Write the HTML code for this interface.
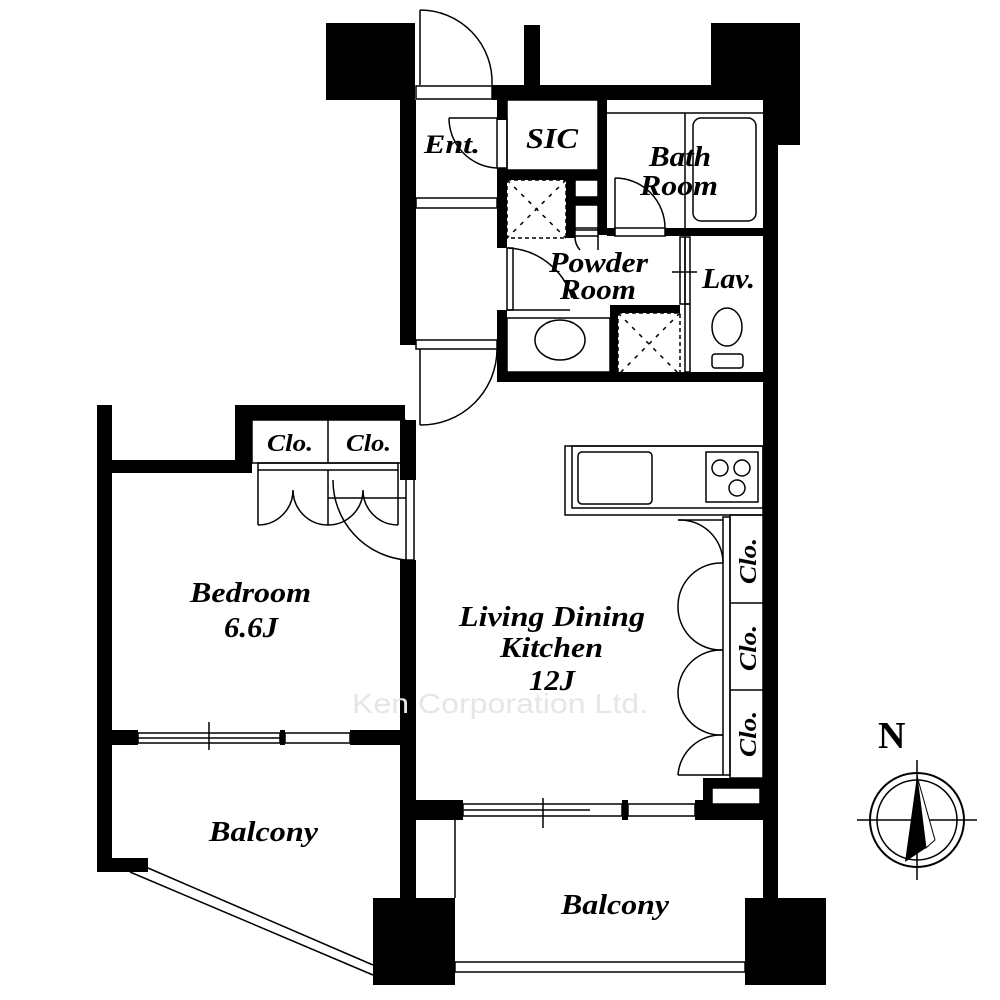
<!DOCTYPE html>
<html><head><meta charset="utf-8"><style>
html,body{margin:0;padding:0;background:#fff}
svg{display:block}
text{font-family:"Liberation Serif",serif;font-weight:bold;font-style:italic;fill:#000}
</style></head><body>
<svg width="1000" height="1000" viewBox="0 0 1000 1000" xmlns="http://www.w3.org/2000/svg">
<g fill="#000">
<rect x="326" y="23" width="89" height="77"/>
<rect x="711" y="23" width="89" height="77"/>
<rect x="763" y="23" width="37" height="122"/>
<rect x="524" y="25" width="16" height="62"/>
<rect x="373" y="898" width="82" height="87"/>
<rect x="745" y="898" width="81" height="87"/>
<rect x="492" y="85" width="220" height="15"/>
<rect x="400" y="100" width="16" height="245"/>
<rect x="400" y="420" width="16" height="60"/>
<rect x="400" y="560" width="16" height="340"/>
<rect x="763" y="140" width="15" height="760"/>
<rect x="497" y="100" width="10" height="20"/>
<rect x="497" y="168" width="10" height="80"/>
<rect x="497" y="310" width="10" height="72"/>
<rect x="598" y="100" width="9" height="135"/>
<rect x="507" y="170" width="93" height="10"/>
<rect x="566" y="180" width="9" height="58"/>
<rect x="575" y="197" width="25" height="8"/>
<rect x="607" y="228" width="8" height="8"/>
<rect x="665" y="228" width="100" height="8"/>
<rect x="610" y="305" width="8" height="70"/>
<rect x="610" y="305" width="70" height="8"/>
<rect x="497" y="372" width="268" height="10"/>
<rect x="97" y="405" width="15" height="465"/>
<rect x="97" y="460" width="155" height="13"/>
<rect x="235" y="405" width="170" height="15"/>
<rect x="235" y="405" width="17" height="60"/>
<rect x="112" y="730" width="26" height="15"/>
<rect x="280" y="730" width="5" height="15"/>
<rect x="350" y="730" width="60" height="15"/>
<rect x="97" y="858" width="51" height="14"/>
<rect x="400" y="800" width="63" height="20"/>
<rect x="622" y="800" width="6" height="20"/>
<rect x="695" y="800" width="70" height="20"/>
<rect x="703" y="778" width="60" height="30"/>
</g>
<g fill="none" stroke="#000" stroke-width="1.5">
<line x1="420" y1="10" x2="420" y2="85"/>
<path d="M420 10 A72 72 0 0 1 492 85"/>
<rect x="416" y="86" width="76" height="13"/>
<path d="M449 118 L497 118"/>
<rect x="497" y="118" width="10" height="50"/>
<path d="M449 118 A50 50 0 0 0 497 168"/>
<rect x="416" y="198" width="81" height="10"/>
<rect x="416" y="340" width="81" height="9"/>
<line x1="420" y1="349" x2="420" y2="425"/>
<path d="M497 349 A76 76 0 0 1 420 425"/>
<rect x="507" y="100" width="91" height="70"/>
<rect x="507" y="180" width="59" height="58" stroke-dasharray="4 3"/>
<line x1="507" y1="180" x2="566" y2="238" stroke-dasharray="4 6"/>
<line x1="566" y1="180" x2="507" y2="238" stroke-dasharray="4 6"/>
<rect x="575" y="180" width="23" height="17"/>
<rect x="575" y="205" width="23" height="25"/>
<rect x="575" y="228" width="23" height="8"/>
<line x1="607" y1="113" x2="763" y2="113"/>
<line x1="685" y1="113" x2="685" y2="228"/>
<rect x="693" y="118" width="63" height="103" rx="8"/>
<path d="M615 178 A50 50 0 0 1 665 228"/>
<line x1="615" y1="178" x2="615" y2="228"/>
<rect x="615" y="228" width="50" height="8"/>
<path d="M507 248 A70 70 0 0 1 572 298"/>
<rect x="507" y="248" width="6" height="62"/>
<path d="M575 236 A20 20 0 0 0 580 250"/>
<line x1="598" y1="236" x2="598" y2="250"/>
<rect x="507" y="318" width="103" height="54"/>
<line x1="507" y1="310" x2="570" y2="310"/>
<ellipse cx="560" cy="340" rx="25" ry="20"/>
<rect x="618" y="313" width="62" height="62" stroke-dasharray="4 3"/>
<line x1="618" y1="313" x2="680" y2="375" stroke-dasharray="4 6"/>
<line x1="680" y1="313" x2="618" y2="375" stroke-dasharray="4 6"/>
<rect x="680" y="237" width="5" height="67"/>
<rect x="685" y="237" width="5" height="67"/>
<rect x="685" y="304" width="5" height="68"/>
<line x1="672" y1="272" x2="697" y2="272"/>
<ellipse cx="727" cy="327" rx="15" ry="19"/>
<rect x="712" y="354" width="31" height="14" rx="3"/>
<rect x="252" y="420" width="153" height="43"/>
<line x1="328" y1="420" x2="328" y2="463"/>
<rect x="258" y="463" width="140" height="7"/>
<line x1="258" y1="470" x2="258" y2="525"/>
<line x1="328" y1="470" x2="328" y2="525"/>
<line x1="398" y1="470" x2="398" y2="525"/>
<path d="M258 525 A35 35 0 0 0 293 490 A35 35 0 0 0 328 525"/>
<path d="M328 525 A35 35 0 0 0 363 490 A35 35 0 0 0 398 525"/>
<line x1="328" y1="498" x2="406" y2="498"/>
<rect x="406" y="478" width="8" height="82"/>
<path d="M333 480 A80 80 0 0 0 406 560"/>
<rect x="138" y="733" width="142" height="10"/>
<rect x="285" y="733" width="65" height="10"/>
<line x1="138" y1="738" x2="280" y2="738"/>
<line x1="209" y1="722" x2="209" y2="750"/>
<line x1="130" y1="872" x2="373" y2="975"/>
<line x1="148" y1="868" x2="373" y2="965"/>
<rect x="565" y="446" width="198" height="69"/>
<rect x="572" y="446" width="191" height="62"/>
<rect x="578" y="452" width="74" height="52" rx="4"/>
<rect x="706" y="452" width="52" height="50"/>
<circle cx="720" cy="468" r="8"/>
<circle cx="742" cy="468" r="8"/>
<circle cx="737" cy="488" r="8"/>
<rect x="730" y="515" width="33" height="263"/>
<line x1="730" y1="603" x2="763" y2="603"/>
<line x1="730" y1="690" x2="763" y2="690"/>
<rect x="723" y="517" width="7" height="258"/>
<line x1="678" y1="520" x2="723" y2="520"/>
<path d="M678 520 A43 43 0 0 1 723 563"/>
<path d="M723 563 A43 43 0 0 0 678 606 A43 43 0 0 0 723 650"/>
<path d="M723 650 A43 43 0 0 0 678 693 A43 43 0 0 0 723 735"/>
<path d="M723 735 A43 43 0 0 0 678 775"/>
<line x1="678" y1="775" x2="723" y2="775"/>
<rect x="712" y="788" width="48" height="16" fill="#fff"/>
<rect x="463" y="804" width="159" height="12"/>
<rect x="628" y="804" width="67" height="12"/>
<line x1="463" y1="810" x2="590" y2="810"/>
<line x1="543" y1="798" x2="543" y2="828"/>
<line x1="455" y1="820" x2="455" y2="898"/>
<rect x="455" y="962" width="290" height="10"/>
<circle cx="917" cy="820" r="47" stroke-width="2"/>
<circle cx="917" cy="820" r="40"/>
<line x1="917" y1="760" x2="917" y2="880"/>
<line x1="857" y1="820" x2="977" y2="820"/>
</g>
<path d="M917 776 L905 862 L926 848 Z" fill="#000"/>
<path d="M917 776 L926 848 L935 840 Z" fill="#fff" stroke="#000"/>
<text x="878" y="748" font-size="38" style="font-style:normal">N</text>
<g font-size="28">
<text x="424" y="153" font-size="26" textLength="56" lengthAdjust="spacingAndGlyphs">Ent.</text>
<text x="526" y="148" textLength="52" lengthAdjust="spacingAndGlyphs">SIC</text>
<text x="649" y="166" textLength="62" lengthAdjust="spacingAndGlyphs">Bath</text>
<text x="640" y="195" textLength="78" lengthAdjust="spacingAndGlyphs">Room</text>
<text x="549" y="272" textLength="99" lengthAdjust="spacingAndGlyphs">Powder</text>
<text x="560" y="299" textLength="76" lengthAdjust="spacingAndGlyphs">Room</text>
<text x="702" y="288" textLength="53" lengthAdjust="spacingAndGlyphs">Lav.</text>
<text x="267" y="451" font-size="24" textLength="46" lengthAdjust="spacingAndGlyphs">Clo.</text>
<text x="346" y="451" font-size="24" textLength="45" lengthAdjust="spacingAndGlyphs">Clo.</text>
<text x="190" y="602" textLength="121" lengthAdjust="spacingAndGlyphs">Bedroom</text>
<text x="224" y="637" textLength="54" lengthAdjust="spacingAndGlyphs">6.6J</text>
<text x="459" y="626" textLength="186" lengthAdjust="spacingAndGlyphs">Living Dining</text>
<text x="500" y="657" textLength="103" lengthAdjust="spacingAndGlyphs">Kitchen</text>
<text x="529" y="690" textLength="46" lengthAdjust="spacingAndGlyphs">12J</text>
<text x="209" y="841" textLength="109" lengthAdjust="spacingAndGlyphs">Balcony</text>
<text x="561" y="914" textLength="108" lengthAdjust="spacingAndGlyphs">Balcony</text>
</g>
<g font-size="24">
<text transform="translate(756,584) rotate(-90)" textLength="46" lengthAdjust="spacingAndGlyphs">Clo.</text>
<text transform="translate(756,671) rotate(-90)" textLength="46" lengthAdjust="spacingAndGlyphs">Clo.</text>
<text transform="translate(756,757) rotate(-90)" textLength="46" lengthAdjust="spacingAndGlyphs">Clo.</text>
</g>
<text x="352" y="713" font-size="28" textLength="296" lengthAdjust="spacingAndGlyphs" style="font-family:'Liberation Sans',sans-serif;font-weight:normal;font-style:normal;fill:#e6e6e6">Ken Corporation Ltd.</text>
</svg>
</body></html>
